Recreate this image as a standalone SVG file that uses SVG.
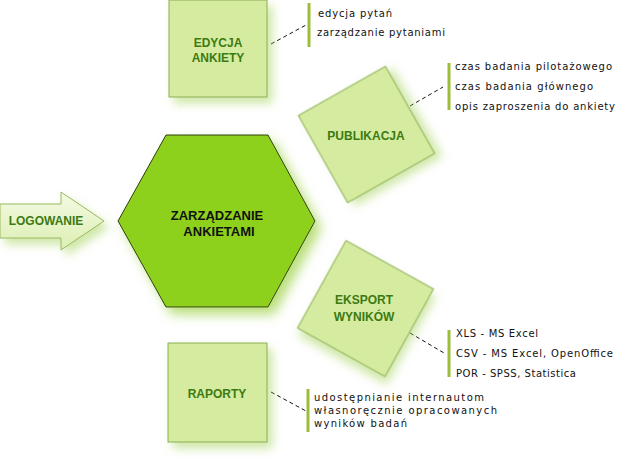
<svg xmlns="http://www.w3.org/2000/svg" width="627" height="464" viewBox="0 0 627 464">
<defs>
<filter id="glow" x="-30%" y="-30%" width="170%" height="170%">
<feGaussianBlur in="SourceAlpha" stdDeviation="5" result="b"/>
<feOffset in="b" dx="5" dy="6" result="o"/>
<feFlood flood-color="#a8d460" flood-opacity="0.55"/>
<feComposite in2="o" operator="in" result="s"/>
<feMerge><feMergeNode in="s"/><feMergeNode in="SourceGraphic"/></feMerge>
</filter>
<filter id="glowHex" x="-30%" y="-30%" width="170%" height="170%">
<feGaussianBlur in="SourceAlpha" stdDeviation="6" result="b"/>
<feOffset in="b" dx="6" dy="7" result="o"/>
<feFlood flood-color="#9ad040" flood-opacity="0.7"/>
<feComposite in2="o" operator="in" result="s"/>
<feMerge><feMergeNode in="s"/><feMergeNode in="SourceGraphic"/></feMerge>
</filter>
<linearGradient id="arrowGrad" x1="0" y1="0" x2="0" y2="1">
<stop offset="0" stop-color="#f4fae4"/>
<stop offset="1" stop-color="#dcefb2"/>
</linearGradient>
</defs>
<style>
.box{fill:#d5eca0;stroke:#8cae55;stroke-width:1}
.lbl{font-family:"Liberation Sans",Arial,sans-serif;font-weight:bold;font-size:12px;fill:#3d7a12;text-anchor:middle}
.hexlbl{font-family:"Liberation Sans",Arial,sans-serif;font-weight:bold;font-size:13px;fill:#111;text-anchor:middle}
.item{font-family:"DejaVu Sans",Verdana,sans-serif;font-size:10px;fill:#111}
.bar{stroke:#9bbd3a;stroke-width:3}
.dash{stroke:#111;stroke-width:1;stroke-dasharray:4 3;fill:none}
</style>
<rect width="627" height="464" fill="#ffffff"/>

<g id="connectors">
<line class="dash" x1="271" y1="44" x2="306" y2="25"/>
<line class="dash" x1="410" y1="106" x2="443" y2="87"/>
<line class="dash" x1="410" y1="333" x2="444" y2="353"/>
<line class="dash" x1="271" y1="392" x2="306" y2="411"/>
</g>

<g id="logowanie">
<polygon points="0,204 61,204 61,192 104,221 61,250 61,238 0,238" fill="url(#arrowGrad)" stroke="#9ab860" stroke-width="1" filter="url(#glow)"/>
<text class="lbl" x="46" y="225" fill="#3d6b1a">LOGOWANIE</text>
</g>

<g id="zarzadzanie">
<polygon points="166,135 268,135 315,221 268,307 166,307 118,221" fill="#8ed11f" stroke="#2d3a12" stroke-width="1" filter="url(#glowHex)"/>
<text class="hexlbl" x="217" y="220">ZARZĄDZANIE</text>
<text class="hexlbl" x="219" y="236">ANKIETAMI</text>
</g>

<g id="edycja">
<rect class="box" x="169" y="0" width="98" height="97" filter="url(#glow)"/>
<text class="lbl" x="218" y="47">EDYCJA</text>
<text class="lbl" x="218" y="62">ANKIETY</text>
<line class="bar" x1="309" y1="3" x2="309" y2="47"/>
<text class="item" x="318" y="17" textLength="74" lengthAdjust="spacing">edycja pytań</text>
<text class="item" x="317" y="36" textLength="128" lengthAdjust="spacing">zarządzanie pytaniami</text>
</g>

<g id="publikacja">
<rect class="box" x="-50" y="-50" width="100" height="100" transform="translate(366.5,134.5) rotate(-29.5)" filter="url(#glow)"/>
<text class="lbl" x="366" y="140">PUBLIKACJA</text>
<line class="bar" x1="449" y1="63" x2="449" y2="110"/>
<text class="item" x="455" y="70" textLength="157" lengthAdjust="spacing">czas badania pilotażowego</text>
<text class="item" x="455" y="90" textLength="138" lengthAdjust="spacing">czas badania głównego</text>
<text class="item" x="455" y="110" textLength="160" lengthAdjust="spacing">opis zaproszenia do ankiety</text>
</g>

<g id="eksport">
<rect class="box" x="-50" y="-50" width="100" height="100" transform="translate(365.5,308.5) rotate(29)" filter="url(#glow)"/>
<text class="lbl" x="364" y="304">EKSPORT</text>
<text class="lbl" x="364" y="321">WYNIKÓW</text>
<line class="bar" x1="449" y1="330" x2="449" y2="377"/>
<text class="item" x="456" y="337" textLength="82" lengthAdjust="spacing">XLS - MS Excel</text>
<text class="item" x="456" y="357" textLength="157" lengthAdjust="spacing">CSV - MS Excel, OpenOffice</text>
<text class="item" x="456" y="377" textLength="120" lengthAdjust="spacing">POR - SPSS, Statistica</text>
</g>

<g id="raporty">
<rect class="box" x="168" y="343" width="99" height="99" filter="url(#glow)"/>
<text class="lbl" x="217" y="398">RAPORTY</text>
<line class="bar" x1="308" y1="389" x2="308" y2="432"/>
<text class="item" x="314" y="401" font-size="10.5" textLength="170" lengthAdjust="spacing">udostępnianie internautom</text>
<text class="item" x="314" y="414" font-size="10.5" textLength="183" lengthAdjust="spacing">własnoręcznie opracowanych</text>
<text class="item" x="314" y="427" font-size="10.5" textLength="93" lengthAdjust="spacing">wyników badań</text>
</g>
</svg>
